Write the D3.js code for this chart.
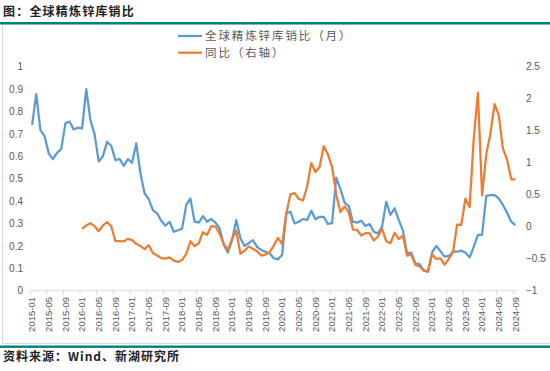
<!DOCTYPE html>
<html lang="zh">
<head>
<meta charset="UTF-8">
<title>全球精炼锌库销比</title>
<style>
  body { margin: 0; background: #fff; }
  text { font-family: "Liberation Sans", "DejaVu Sans", sans-serif; }
  .cjk { font-family: "Noto Sans CJK SC", sans-serif; }
</style>
</head>
<body>
<svg id="svg" width="550" height="371"></svg>
<script src="https://d3js.org/d3.v7.min.js"></script>
<script>
// monthly stock-to-sales ratio, 2015-01 .. 2024-09 (left axis)
const ratio = [
  0.74, 0.878, 0.717, 0.69, 0.613, 0.587, 0.616, 0.633, 0.747, 0.755, 0.72, 0.728,
  0.725, 0.9, 0.762, 0.698, 0.576, 0.601, 0.665, 0.647, 0.583, 0.588, 0.557, 0.588,
  0.571, 0.658, 0.524, 0.435, 0.408, 0.36, 0.345, 0.312, 0.29, 0.308, 0.263, 0.27,
  0.277, 0.383, 0.412, 0.308, 0.304, 0.333, 0.308, 0.32, 0.304, 0.279, 0.204, 0.17,
  0.226, 0.316, 0.234, 0.2, 0.212, 0.226, 0.196, 0.182, 0.174, 0.167, 0.145, 0.14,
  0.159, 0.345, 0.353, 0.3, 0.308, 0.32, 0.316, 0.357, 0.319, 0.33, 0.33, 0.298,
  0.302, 0.505, 0.453, 0.393, 0.378, 0.308, 0.304, 0.312, 0.289, 0.298, 0.263, 0.256,
  0.286, 0.397, 0.338, 0.368, 0.316, 0.268, 0.167, 0.17, 0.122, 0.119, 0.092, 0.085,
  0.17, 0.2, 0.177, 0.152, 0.155, 0.174, 0.174, 0.179, 0.17, 0.149, 0.196, 0.249,
  0.249, 0.423, 0.427, 0.427, 0.412, 0.383, 0.348, 0.308, 0.293
]
// year-on-year change, 2016-01 .. 2024-09 (right axis)
const yoy = [
  -0.033, 0.019, 0.055, 0.008, -0.07, 0.019, 0.071, 0.008, -0.227, -0.227, -0.23, -0.19,
  -0.21, -0.268, -0.30, -0.35, -0.29, -0.41, -0.45, -0.49, -0.50, -0.48, -0.53, -0.55,
  -0.52, -0.425, -0.227, -0.306, -0.259, -0.086, -0.127, 0.008, 0.003, -0.111, -0.268, -0.362,
  -0.19, -0.06, -0.425, -0.373, -0.31, -0.346, -0.384, -0.451, -0.436, -0.4, -0.295, -0.174,
  -0.268, 0.202, 0.505, 0.525, 0.437, 0.41, 0.62, 0.995, 0.854, 0.933, 1.257, 1.13,
  0.93, 0.5, 0.227, 0.317, 0.227, -0.044, -0.049, -0.138, -0.102, -0.102, -0.216, -0.154,
  -0.033, -0.227, -0.259, -0.096, -0.19, -0.138, -0.451, -0.44, -0.597, -0.619, -0.687, -0.702,
  -0.436, -0.503, -0.494, -0.592, -0.503, -0.4, 0.034, 0.03, 0.437, 0.306, 1.378, 2.09,
  0.489, 1.13, 1.456, 1.915, 1.743, 1.22, 1.05, 0.74, 0.74
]
const yoyStart = '2016-01'
const leftTicks = [0, 0.1, 0.2, 0.3, 0.4, 0.5, 0.6, 0.7, 0.8, 0.9, 1]
const rightTicks = [-1, -0.5, 0, 0.5, 1, 1.5, 2, 2.5]
const tickLabels = ['2015-01','2015-05','2015-09','2016-01','2016-05','2016-09','2017-01','2017-05','2017-09',
  '2018-01','2018-05','2018-09','2019-01','2019-05','2019-09','2020-01','2020-05','2020-09',
  '2021-01','2021-05','2021-09','2022-01','2022-05','2022-09','2023-01','2023-05','2023-09',
  '2024-01','2024-05','2024-09']
const seriesNames = ['全球精炼锌库销比（月）', '同比（右轴）']

const fmt = d3.timeFormat('%Y-%m')
const months = d3.timeMonth.range(new Date(2015, 0, 1), new Date(2024, 9, 1)).map(fmt)

const svg = d3.select('#svg')
const blue = '#5B9BD5', orange = '#ED7D31', grey = '#595959'

// title + frame
svg.append('text').attr('class', 'cjk').attr('x', 3).attr('y', 16)
  .style('font-size', '12px').style('font-weight', 'bold').style('letter-spacing', '1.2px')
  .attr('fill', '#222').text('图：全球精炼锌库销比')
svg.append('rect').attr('x', 2.5).attr('y', 24.5).attr('width', 560).attr('height', 319)
  .attr('fill', 'none').attr('stroke', '#d9d9d9')
svg.append('rect').attr('x', 0).attr('y', 22).attr('width', 550).attr('height', 2.4).attr('fill', '#00827C')
svg.append('rect').attr('x', 0).attr('y', 345.5).attr('width', 550).attr('height', 2.4).attr('fill', '#00827C')
svg.append('text').attr('class', 'cjk').attr('x', 3).attr('y', 361)
  .style('font-size', '12px').style('font-weight', 'bold').style('letter-spacing', '1px')
  .attr('fill', '#222').text('资料来源：Wind、新湖研究所')

const x = d3.scaleBand().domain(months).range([30, 517.5])
const cx = m => x(m) + x.bandwidth() / 2
const yL = d3.scaleLinear().domain([0, 1]).range([290.7, 66.7])
const yR = d3.scaleLinear().domain([-1, 2.5]).range([290.7, 66.7])

// axes
const gl = svg.append('g').attr('transform', 'translate(26,0)')
  .call(d3.axisLeft(yL).tickValues(leftTicks).tickSize(0).tickFormat(d3.format('')))
gl.select('.domain').remove()
const gr = svg.append('g').attr('transform', 'translate(523,0)')
  .call(d3.axisRight(yR).tickValues(rightTicks).tickSize(0).tickFormat(d3.format('')))
gr.select('.domain').remove()
svg.selectAll('.tick text').style('font-size', '10px').attr('fill', grey)
  .style('font-family', '"Liberation Sans", sans-serif')

svg.append('line').attr('x1', 30).attr('x2', 517.5).attr('y1', 290.7).attr('y2', 290.7)
  .attr('stroke', '#d9d9d9')
const gx = svg.append('g')
gx.selectAll('line').data(tickLabels).enter().append('line')
  .attr('x1', d => x(d)).attr('x2', d => x(d)).attr('y1', 290.7).attr('y2', 294.5)
  .attr('stroke', '#d9d9d9')
gx.selectAll('text').data(tickLabels).enter().append('text')
  .attr('transform', d => `translate(${cx(d) + 3.3},297) rotate(-90)`)
  .attr('text-anchor', 'end')
  .style('font-size', '9.5px').attr('fill', grey).text(d => d)

// lines
const line = d3.line().x(d => cx(d[0]))
svg.append('path')
  .attr('d', line.y(d => yL(d[1]))(ratio.map((v, i) => [months[i], v])))
  .attr('fill', 'none').attr('stroke', blue).attr('stroke-width', 2.25).attr('stroke-linejoin', 'round')
const off = months.indexOf(yoyStart)
svg.append('path')
  .attr('d', line.y(d => yR(d[1]))(yoy.map((v, i) => [months[i + off], v])))
  .attr('fill', 'none').attr('stroke', orange).attr('stroke-width', 2.25).attr('stroke-linejoin', 'round')

// legend
const lg = svg.append('g').selectAll('g').data(seriesNames).enter().append('g')
  .attr('transform', (d, i) => `translate(178,${36 + i * 16.7})`)
lg.append('line').attr('x1', 0).attr('x2', 24).attr('stroke', (d, i) => i ? orange : blue).attr('stroke-width', 2.25)
lg.append('text').attr('class', 'cjk').attr('x', 27).attr('y', 4.2)
  .style('font-size', '11.5px').style('letter-spacing', '1.9px').attr('fill', grey).text(d => d)
</script>
</body>
</html>
